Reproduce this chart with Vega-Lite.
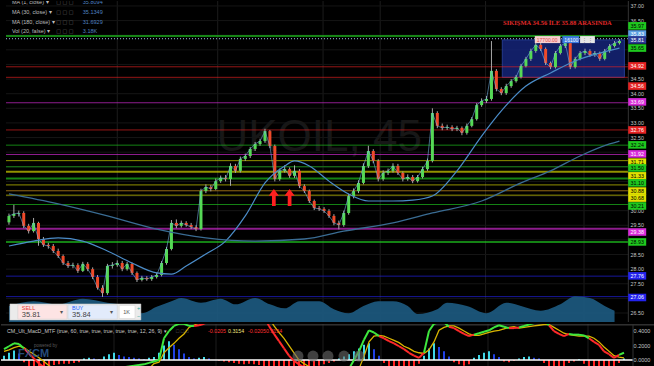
{
"$schema":"https://vega.github.io/schema/vega-lite/v6.json",
"background":"#000000",
"padding":0,
"spacing":0,
"config":{"view":{"stroke":null},"font":"Liberation Sans"},
"datasets":{
"bars":[
{"i":0,"o":29.60,"h":29.90,"l":29.52,"c":29.82},{"i":1,"o":29.82,"h":30.20,"l":29.75,"c":29.89},{"i":2,"o":29.89,"h":30.00,"l":29.80,"c":29.92},{"i":3,"o":29.92,"h":29.98,"l":29.40,"c":29.48},{"i":4,"o":29.48,"h":29.55,"l":29.22,"c":29.30},{"i":5,"o":29.30,"h":29.75,"l":29.25,"c":29.58},{"i":6,"o":29.58,"h":29.62,"l":28.80,"c":29.03},{"i":7,"o":29.03,"h":29.10,"l":28.76,"c":28.83},{"i":8,"o":28.83,"h":28.90,"l":28.70,"c":28.79},{"i":9,"o":28.79,"h":28.86,"l":28.55,"c":28.62},
{"i":10,"o":28.62,"h":28.70,"l":28.38,"c":28.45},{"i":11,"o":28.45,"h":28.50,"l":28.14,"c":28.21},{"i":12,"o":28.21,"h":28.28,"l":28.04,"c":28.11},{"i":13,"o":28.11,"h":28.22,"l":28.03,"c":28.14},{"i":14,"o":28.14,"h":28.20,"l":27.87,"c":27.94},{"i":15,"o":27.94,"h":28.25,"l":27.90,"c":28.18},{"i":16,"o":28.18,"h":28.24,"l":27.93,"c":28.00},{"i":17,"o":28.00,"h":28.06,"l":27.66,"c":27.73},{"i":18,"o":27.73,"h":27.80,"l":27.30,"c":27.36},{"i":19,"o":27.36,"h":27.45,"l":27.05,"c":27.18},
{"i":20,"o":27.18,"h":28.18,"l":27.12,"c":28.11},{"i":21,"o":28.11,"h":28.24,"l":28.02,"c":28.14},{"i":22,"o":28.14,"h":28.30,"l":28.08,"c":28.21},{"i":23,"o":28.21,"h":28.28,"l":27.93,"c":28.00},{"i":24,"o":28.00,"h":28.25,"l":27.95,"c":28.18},{"i":25,"o":28.18,"h":28.22,"l":27.80,"c":27.87},{"i":26,"o":27.87,"h":27.92,"l":27.56,"c":27.63},{"i":27,"o":27.63,"h":27.77,"l":27.58,"c":27.70},{"i":28,"o":27.70,"h":27.76,"l":27.60,"c":27.66},{"i":29,"o":27.66,"h":27.80,"l":27.60,"c":27.73},
{"i":30,"o":27.73,"h":27.88,"l":27.68,"c":27.80},{"i":31,"o":27.80,"h":28.28,"l":27.75,"c":28.21},{"i":32,"o":28.21,"h":28.76,"l":28.15,"c":28.69},{"i":33,"o":28.69,"h":29.68,"l":28.64,"c":29.58},{"i":34,"o":29.58,"h":29.70,"l":29.40,"c":29.48},{"i":35,"o":29.48,"h":29.66,"l":29.42,"c":29.58},{"i":36,"o":29.58,"h":29.64,"l":29.45,"c":29.51},{"i":37,"o":29.51,"h":29.58,"l":29.37,"c":29.44},{"i":38,"o":29.44,"h":29.50,"l":29.30,"c":29.37},{"i":39,"o":29.37,"h":30.75,"l":29.32,"c":30.67},
{"i":40,"o":30.67,"h":30.90,"l":30.60,"c":30.81},{"i":41,"o":30.81,"h":30.88,"l":30.66,"c":30.74},{"i":42,"o":30.74,"h":31.10,"l":30.70,"c":31.01},{"i":43,"o":31.01,"h":31.20,"l":30.95,"c":31.12},{"i":44,"o":31.12,"h":31.22,"l":31.00,"c":31.08},{"i":45,"o":31.08,"h":31.62,"l":30.85,"c":31.53},{"i":46,"o":31.53,"h":31.60,"l":31.29,"c":31.36},{"i":47,"o":31.36,"h":31.85,"l":31.30,"c":31.77},{"i":48,"o":31.77,"h":31.95,"l":31.70,"c":31.87},{"i":49,"o":31.87,"h":32.18,"l":31.80,"c":32.11},
{"i":50,"o":32.11,"h":32.35,"l":32.04,"c":32.28},{"i":51,"o":32.28,"h":32.46,"l":32.22,"c":32.38},{"i":52,"o":32.38,"h":32.80,"l":32.32,"c":32.72},{"i":53,"o":32.72,"h":32.76,"l":32.14,"c":32.21},{"i":54,"o":32.21,"h":32.26,"l":31.00,"c":31.08},{"i":55,"o":31.08,"h":31.44,"l":31.02,"c":31.36},{"i":56,"o":31.36,"h":31.55,"l":31.30,"c":31.42},{"i":57,"o":31.42,"h":31.48,"l":31.12,"c":31.19},{"i":58,"o":31.19,"h":31.55,"l":31.12,"c":31.36},{"i":59,"o":31.36,"h":31.42,"l":30.77,"c":30.84},
{"i":60,"o":30.84,"h":30.90,"l":30.60,"c":30.67},{"i":61,"o":30.67,"h":30.72,"l":30.26,"c":30.33},{"i":62,"o":30.33,"h":30.38,"l":30.02,"c":30.09},{"i":63,"o":30.09,"h":30.16,"l":29.99,"c":30.06},{"i":64,"o":30.06,"h":30.12,"l":29.92,"c":29.99},{"i":65,"o":29.99,"h":30.05,"l":29.75,"c":29.82},{"i":66,"o":29.82,"h":29.88,"l":29.50,"c":29.58},{"i":67,"o":29.58,"h":29.66,"l":29.36,"c":29.51},{"i":68,"o":29.51,"h":30.00,"l":29.45,"c":29.92},{"i":69,"o":29.92,"h":30.58,"l":29.86,"c":30.50},
{"i":70,"o":30.50,"h":30.76,"l":30.42,"c":30.67},{"i":71,"o":30.67,"h":31.04,"l":30.60,"c":30.95},{"i":72,"o":30.95,"h":31.62,"l":30.90,"c":31.53},{"i":73,"o":31.53,"h":32.22,"l":31.46,"c":32.04},{"i":74,"o":32.04,"h":32.10,"l":31.62,"c":31.70},{"i":75,"o":31.70,"h":31.76,"l":31.00,"c":31.08},{"i":76,"o":31.08,"h":31.38,"l":31.02,"c":31.29},{"i":77,"o":31.29,"h":31.44,"l":31.22,"c":31.36},{"i":78,"o":31.36,"h":31.62,"l":31.30,"c":31.53},{"i":79,"o":31.53,"h":31.60,"l":31.22,"c":31.29},
{"i":80,"o":31.29,"h":31.34,"l":31.00,"c":31.08},{"i":81,"o":31.08,"h":31.24,"l":31.02,"c":31.15},{"i":82,"o":31.15,"h":31.22,"l":30.94,"c":31.01},{"i":83,"o":31.01,"h":31.22,"l":30.96,"c":31.15},{"i":84,"o":31.15,"h":31.50,"l":31.10,"c":31.42},{"i":85,"o":31.42,"h":31.78,"l":31.36,"c":31.70},{"i":86,"o":31.70,"h":33.50,"l":31.65,"c":33.34},{"i":87,"o":33.34,"h":33.40,"l":32.82,"c":32.90},{"i":88,"o":32.90,"h":32.98,"l":32.75,"c":32.83},{"i":89,"o":32.83,"h":32.94,"l":32.76,"c":32.86},
{"i":90,"o":32.86,"h":32.92,"l":32.72,"c":32.79},{"i":91,"o":32.79,"h":32.90,"l":32.72,"c":32.83},{"i":92,"o":32.83,"h":32.88,"l":32.58,"c":32.66},{"i":93,"o":32.66,"h":32.98,"l":32.60,"c":32.90},{"i":94,"o":32.90,"h":33.20,"l":32.85,"c":33.13},{"i":95,"o":33.13,"h":33.68,"l":33.08,"c":33.61},{"i":96,"o":33.61,"h":33.84,"l":33.55,"c":33.75},{"i":97,"o":33.75,"h":33.92,"l":33.68,"c":33.82},{"i":98,"o":33.82,"h":35.80,"l":33.76,"c":34.78},{"i":99,"o":34.78,"h":34.84,"l":34.08,"c":34.16},
{"i":100,"o":34.16,"h":34.22,"l":33.95,"c":34.02},{"i":101,"o":34.02,"h":34.34,"l":33.96,"c":34.26},{"i":102,"o":34.26,"h":34.50,"l":34.20,"c":34.43},{"i":103,"o":34.43,"h":34.64,"l":34.38,"c":34.57},{"i":104,"o":34.57,"h":35.02,"l":34.52,"c":34.95},{"i":105,"o":34.95,"h":35.26,"l":34.90,"c":35.19},{"i":106,"o":35.19,"h":35.54,"l":35.12,"c":35.46},{"i":107,"o":35.46,"h":35.84,"l":35.40,"c":35.67},{"i":108,"o":35.67,"h":35.74,"l":35.46,"c":35.53},{"i":109,"o":35.53,"h":35.58,"l":34.98,"c":35.05},
{"i":110,"o":35.05,"h":35.10,"l":34.84,"c":34.91},{"i":111,"o":34.91,"h":35.46,"l":34.86,"c":35.39},{"i":112,"o":35.39,"h":35.70,"l":35.34,"c":35.63},{"i":113,"o":35.63,"h":35.84,"l":35.56,"c":35.73},{"i":114,"o":35.73,"h":35.78,"l":34.84,"c":34.91},{"i":115,"o":34.91,"h":35.26,"l":34.86,"c":35.19},{"i":116,"o":35.19,"h":35.46,"l":35.14,"c":35.39},{"i":117,"o":35.39,"h":35.54,"l":35.32,"c":35.46},{"i":118,"o":35.46,"h":35.52,"l":35.26,"c":35.32},{"i":119,"o":35.32,"h":35.46,"l":35.26,"c":35.39},
{"i":120,"o":35.39,"h":35.44,"l":35.12,"c":35.19},{"i":121,"o":35.19,"h":35.53,"l":35.14,"c":35.46},{"i":122,"o":35.46,"h":35.70,"l":35.40,"c":35.63},{"i":123,"o":35.63,"h":35.80,"l":35.58,"c":35.73},{"i":124,"o":35.73,"h":35.86,"l":35.68,"c":35.80}
],
"macd":[
{"i":0,"m":0.15,"s":0.12,"hist":0.06},{"i":1,"m":0.19,"s":0.14,"hist":0.10},{"i":2,"m":0.23,"s":0.17,"hist":0.13},{"i":3,"m":0.22,"s":0.19,"hist":0.09},{"i":4,"m":0.16,"s":0.17,"hist":-0.03},{"i":5,"m":0.09,"s":0.12,"hist":-0.09},{"i":6,"m":0.02,"s":0.08,"hist":-0.13},{"i":7,"m":-0.05,"s":0.03,"hist":-0.15},{"i":8,"m":-0.10,"s":-0.02,"hist":-0.14},{"i":9,"m":-0.14,"s":-0.08,"hist":-0.10},
{"i":10,"m":-0.17,"s":-0.11,"hist":-0.07},{"i":11,"m":-0.19,"s":-0.14,"hist":-0.06},{"i":12,"m":-0.21,"s":-0.16,"hist":-0.05},{"i":13,"m":-0.22,"s":-0.18,"hist":-0.05},{"i":14,"m":-0.23,"s":-0.19,"hist":-0.04},{"i":15,"m":-0.23,"s":-0.20,"hist":-0.03},{"i":16,"m":-0.24,"s":-0.21,"hist":0.02},{"i":17,"m":-0.25,"s":-0.22,"hist":0.03},{"i":18,"m":-0.26,"s":-0.22,"hist":0.02},{"i":19,"m":-0.26,"s":-0.23,"hist":0.01},
{"i":20,"m":-0.22,"s":-0.23,"hist":0.05},{"i":21,"m":-0.18,"s":-0.22,"hist":0.08},{"i":22,"m":-0.15,"s":-0.21,"hist":0.10},{"i":23,"m":-0.12,"s":-0.20,"hist":0.07},{"i":24,"m":-0.10,"s":-0.19,"hist":0.05},{"i":25,"m":-0.09,"s":-0.17,"hist":0.04},{"i":26,"m":-0.08,"s":-0.16,"hist":0.03},{"i":27,"m":-0.07,"s":-0.14,"hist":0.02},{"i":28,"m":-0.06,"s":-0.13,"hist":0.01},{"i":29,"m":-0.04,"s":-0.12,"hist":0.03},
{"i":30,"m":-0.02,"s":-0.05,"hist":0.04},{"i":31,"m":0.00,"s":-0.03,"hist":0.10},{"i":32,"m":0.30,"s":0.10,"hist":0.20},{"i":33,"m":0.40,"s":0.17,"hist":0.26},{"i":34,"m":0.47,"s":0.23,"hist":0.21},{"i":35,"m":0.50,"s":0.30,"hist":0.15},{"i":36,"m":0.50,"s":0.36,"hist":0.09},{"i":37,"m":0.47,"s":0.45,"hist":0.04},{"i":38,"m":0.47,"s":0.48,"hist":0.02},{"i":39,"m":0.48,"s":0.51,"hist":0.03},
{"i":40,"m":0.50,"s":0.53,"hist":0.04},{"i":41,"m":0.54,"s":0.55,"hist":0.02},{"i":42,"m":0.58,"s":0.56,"hist":0.00},{"i":43,"m":0.60,"s":0.58,"hist":-0.01},{"i":44,"m":0.61,"s":0.59,"hist":-0.02},{"i":45,"m":0.64,"s":0.60,"hist":-0.03},{"i":46,"m":0.64,"s":0.61,"hist":-0.04},{"i":47,"m":0.66,"s":0.63,"hist":-0.05},{"i":48,"m":0.67,"s":0.64,"hist":-0.06},{"i":49,"m":0.69,"s":0.66,"hist":-0.05},
{"i":50,"m":0.70,"s":0.67,"hist":-0.06},{"i":51,"m":0.66,"s":0.67,"hist":-0.07},{"i":52,"m":0.60,"s":0.65,"hist":-0.09},{"i":53,"m":0.47,"s":0.58,"hist":-0.12},{"i":54,"m":0.36,"s":0.47,"hist":-0.15},{"i":55,"m":0.26,"s":0.38,"hist":-0.18},{"i":56,"m":0.16,"s":0.30,"hist":-0.20},{"i":57,"m":0.06,"s":0.20,"hist":-0.20},{"i":58,"m":-0.01,"s":0.10,"hist":-0.19},{"i":59,"m":-0.06,"s":0.00,"hist":-0.17},
{"i":60,"m":-0.10,"s":-0.05,"hist":-0.15},{"i":61,"m":-0.13,"s":-0.09,"hist":-0.12},{"i":62,"m":-0.17,"s":-0.12,"hist":-0.10},{"i":63,"m":-0.20,"s":-0.14,"hist":-0.08},{"i":64,"m":-0.22,"s":-0.17,"hist":-0.06},{"i":65,"m":-0.23,"s":-0.19,"hist":-0.04},{"i":66,"m":-0.22,"s":-0.20,"hist":-0.02},{"i":67,"m":-0.19,"s":-0.21,"hist":0.02},{"i":68,"m":-0.16,"s":-0.20,"hist":0.05},{"i":69,"m":-0.12,"s":-0.18,"hist":0.08},
{"i":70,"m":0.00,"s":-0.16,"hist":0.12},{"i":71,"m":0.12,"s":-0.12,"hist":0.16},{"i":72,"m":0.28,"s":0.05,"hist":0.21},{"i":73,"m":0.41,"s":0.25,"hist":0.23},{"i":74,"m":0.38,"s":0.33,"hist":0.15},{"i":75,"m":0.33,"s":0.34,"hist":0.06},{"i":76,"m":0.30,"s":0.33,"hist":-0.04},{"i":77,"m":0.26,"s":0.30,"hist":-0.09},{"i":78,"m":0.23,"s":0.27,"hist":-0.13},{"i":79,"m":0.19,"s":0.24,"hist":-0.15},
{"i":80,"m":0.15,"s":0.19,"hist":-0.16},{"i":81,"m":0.10,"s":0.16,"hist":-0.14},{"i":82,"m":0.06,"s":0.12,"hist":-0.10},{"i":83,"m":0.03,"s":0.10,"hist":-0.05},{"i":84,"m":0.10,"s":0.09,"hist":0.06},{"i":85,"m":0.40,"s":0.14,"hist":0.16},{"i":86,"m":0.50,"s":0.25,"hist":0.23},{"i":87,"m":0.52,"s":0.41,"hist":0.18},{"i":88,"m":0.52,"s":0.45,"hist":0.12},{"i":89,"m":0.46,"s":0.47,"hist":0.05},
{"i":90,"m":0.44,"s":0.47,"hist":-0.03},{"i":91,"m":0.40,"s":0.44,"hist":-0.06},{"i":92,"m":0.36,"s":0.40,"hist":-0.08},{"i":93,"m":0.33,"s":0.36,"hist":-0.06},{"i":94,"m":0.35,"s":0.34,"hist":0.03},{"i":95,"m":0.37,"s":0.34,"hist":0.07},{"i":96,"m":0.39,"s":0.36,"hist":0.10},{"i":97,"m":0.41,"s":0.38,"hist":0.12},{"i":98,"m":0.45,"s":0.40,"hist":0.08},{"i":99,"m":0.48,"s":0.41,"hist":0.04},
{"i":100,"m":0.46,"s":0.43,"hist":-0.02},{"i":101,"m":0.44,"s":0.45,"hist":-0.03},{"i":102,"m":0.44,"s":0.46,"hist":-0.01},{"i":103,"m":0.45,"s":0.44,"hist":0.02},{"i":104,"m":0.47,"s":0.45,"hist":0.04},{"i":105,"m":0.49,"s":0.46,"hist":0.05},{"i":106,"m":0.51,"s":0.47,"hist":0.03},{"i":107,"m":0.52,"s":0.48,"hist":0.02},{"i":108,"m":0.54,"s":0.49,"hist":-0.04},{"i":109,"m":0.48,"s":0.49,"hist":-0.09},
{"i":110,"m":0.40,"s":0.45,"hist":-0.14},{"i":111,"m":0.36,"s":0.41,"hist":-0.16},{"i":112,"m":0.33,"s":0.37,"hist":-0.10},{"i":113,"m":0.36,"s":0.35,"hist":-0.04},{"i":114,"m":0.35,"s":0.34,"hist":-0.02},{"i":115,"m":0.35,"s":0.33,"hist":0.01},{"i":116,"m":0.34,"s":0.33,"hist":-0.05},{"i":117,"m":0.30,"s":0.33,"hist":-0.09},{"i":118,"m":0.25,"s":0.30,"hist":-0.13},{"i":119,"m":0.21,"s":0.25,"hist":-0.16},
{"i":120,"m":0.12,"s":0.18,"hist":-0.17},{"i":121,"m":0.08,"s":0.12,"hist":-0.15},{"i":122,"m":0.03,"s":0.06,"hist":-0.10},{"i":123,"m":0.07,"s":0.04,"hist":-0.04},{"i":124,"m":0.10,"s":0.03,"hist":0.02}
],
"ma30":[{"i":0,"v":28.79},{"i":5,"v":28.96},{"i":10,"v":29.07},{"i":15,"v":28.96},{"i":20,"v":28.62},{"i":25,"v":28.21},{"i":30,"v":27.87},{"i":33,"v":27.83},{"i":36,"v":28.11},{"i":40,"v":28.52},{"i":44,"v":28.96},{"i":48,"v":29.82},{"i":52,"v":30.95},{"i":56,"v":31.53},{"i":58,"v":31.70},{"i":61,"v":31.53},{"i":65,"v":31.01},{"i":69,"v":30.57},{"i":73,"v":30.33},{"i":78,"v":30.33},{"i":82,"v":30.36},{"i":86,"v":30.50},{"i":91,"v":31.36},{"i":96,"v":32.55},{"i":100,"v":33.41},{"i":105,"v":34.26},{"i":110,"v":34.71},{"i":115,"v":35.12},{"i":120,"v":35.39},{"i":124,"v":35.56}],
"ma180":[{"i":0,"v":30.57},{"i":10,"v":30.23},{"i":20,"v":29.82},{"i":30,"v":29.37},{"i":40,"v":29.07},{"i":50,"v":28.96},{"i":60,"v":29.03},{"i":68,"v":29.30},{"i":78,"v":29.58},{"i":86,"v":29.92},{"i":96,"v":30.33},{"i":104,"v":30.95},{"i":110,"v":31.36},{"i":116,"v":31.87},{"i":122,"v":32.28},{"i":124,"v":32.38}],
"vol":[{"i":0,"v":2.0},{"i":5,"v":2.6},{"i":10,"v":2.2},{"i":15,"v":2.9},{"i":20,"v":2.4},{"i":25,"v":1.9},{"i":27,"v":1.1},{"i":30,"v":1.9},{"i":33,"v":2.6},{"i":35,"v":3.0},{"i":39,"v":2.4},{"i":43,"v":2.9},{"i":46,"v":2.2},{"i":50,"v":3.0},{"i":53,"v":2.2},{"i":56,"v":1.7},{"i":59,"v":2.6},{"i":63,"v":2.6},{"i":66,"v":1.6},{"i":69,"v":1.1},{"i":72,"v":2.0},{"i":75,"v":2.6},{"i":78,"v":2.6},{"i":81,"v":2.0},{"i":83,"v":1.0},{"i":87,"v":1.6},{"i":89,"v":2.4},{"i":93,"v":2.0},{"i":97,"v":1.1},{"i":101,"v":2.4},{"i":104,"v":2.0},{"i":108,"v":1.4},{"i":112,"v":2.2},{"i":115,"v":3.2},{"i":118,"v":3.0},{"i":121,"v":2.0},{"i":123,"v":1.4}],
"levels":[{"p":35.97,"grp":"green","major":true},{"p":34.92,"grp":"red","major":false},{"p":34.56,"grp":"red","major":false},{"p":33.69,"grp":"magenta","major":false},{"p":32.76,"grp":"red","major":false},{"p":32.24,"grp":"green","major":false},{"p":31.92,"grp":"magenta","major":false},{"p":31.71,"grp":"yellow","major":false},{"p":31.50,"grp":"green","major":false},{"p":31.33,"grp":"yellow","major":true},{"p":31.10,"grp":"green","major":true},{"p":30.88,"grp":"yellow","major":false},{"p":30.68,"grp":"orange","major":false},{"p":30.53,"grp":"yellow","major":false},{"p":30.21,"grp":"green","major":false},{"p":29.38,"grp":"magenta","major":true},{"p":28.93,"grp":"green","major":true},{"p":27.76,"grp":"blue","major":false},{"p":27.06,"grp":"blue","major":false}],
"tags":[{"pos":36.32,"label":"35.97","grp":"green"},{"pos":36.04,"label":"35.83","grp":"lightblue"},{"pos":35.84,"label":"35.81","grp":"navy"},{"pos":35.56,"label":"35.65","grp":"green"},{"pos":34.95,"label":"34.92","grp":"red"},{"pos":34.26,"label":"34.56","grp":"red"},{"pos":33.72,"label":"33.69","grp":"magenta"},{"pos":32.76,"label":"32.76","grp":"red"},{"pos":32.25,"label":"32.24","grp":"green"},{"pos":31.94,"label":"31.92","grp":"magenta"},{"pos":31.66,"label":"31.71","grp":"yellow"},{"pos":31.46,"label":"31.50","grp":"green"},{"pos":31.19,"label":"31.33","grp":"yellow"},{"pos":30.95,"label":"31.10","grp":"green"},{"pos":30.67,"label":"30.88","grp":"yellow"},{"pos":30.43,"label":"30.68","grp":"yellow"},{"pos":30.16,"label":"30.21","grp":"green"},{"pos":29.27,"label":"29.38","grp":"magenta"},{"pos":28.93,"label":"28.93","grp":"green"},{"pos":27.77,"label":"27.76","grp":"blue"},{"pos":27.03,"label":"27.06","grp":"blue"}],
"ticks":[{"p":37.0},{"p":36.5},{"p":34.5},{"p":34.0},{"p":33.5},{"p":33.0},{"p":32.5},{"p":30.0},{"p":29.5},{"p":28.5},{"p":28.0},{"p":27.5},{"p":26.5}],
"hgrid":[{"p":26.5},{"p":27.0},{"p":27.5},{"p":28.0},{"p":28.5},{"p":29.0},{"p":29.5},{"p":30.0},{"p":30.5},{"p":31.0},{"p":31.5},{"p":32.0},{"p":32.5},{"p":33.0},{"p":33.5},{"p":34.0},{"p":34.5},{"p":35.0},{"p":35.5},{"p":36.0},{"p":36.5},{"p":37.0}],
"vgrid":[{"i":22},{"i":42.4},{"i":63.8},{"i":75.4},{"i":96.8},{"i":116.8}],
"legend":[{"p":37.14,"name":"MA (1, close) ▾","val":"35.8094"},{"p":36.79,"name":"MA (30, close) ▾","val":"35.1349"},{"p":36.45,"name":"MA (180, close) ▾","val":"31.6929"},{"p":36.14,"name":"Vol (20, false) ▾","val":"3.18K"}],
"arrows":[{"i":53.8,"p":30.45},{"i":57,"p":30.45}],
"chips":[{"x1":106.8,"x2":112.0,"lab":"17700.00","kind":"amount"},{"x1":112.4,"x2":115.8,"lab":"16100","kind":"qty"},{"x1":116.0,"x2":119.0,"lab":"⋮ ⋮","kind":"menu"}],
"widget":[{"part":"frame","x1":0.2,"x2":26.8,"p1":26.26,"p2":26.81},{"part":"sell","x1":1.8,"x2":11.8,"p1":26.29,"p2":26.78},{"part":"buy","x1":12.0,"x2":22.0,"p1":26.29,"p2":26.78},{"part":"qty","x1":22.4,"x2":25.6,"p1":26.31,"p2":26.76}],
"widgetText":[{"i":2.6,"p":26.67,"t":"SELL","role":"sell"},{"i":2.6,"p":26.43,"t":"35.81","role":"price"},{"i":10.4,"p":26.55,"t":"▾","role":"arrow"},{"i":12.8,"p":26.67,"t":"BUY","role":"buy"},{"i":12.8,"p":26.43,"t":"35.84","role":"price"},{"i":20.6,"p":26.55,"t":"▾","role":"arrow"},{"i":23.2,"p":26.53,"t":"1K","role":"qty"},{"i":26.0,"p":26.68,"t":"+","role":"pm"},{"i":26.0,"p":26.40,"t":"−","role":"pm"}],
"macdHead":[{"i":0.6,"v":0.396,"t":"CM_Ult_MacD_MTF (true, 60, true, true, true, true, true, 12, 26, 9) ▾","role":"name"},{"i":34.4,"v":0.396,"t":"□ □ □","role":"icon"},{"i":40.8,"v":0.396,"t":"-0.0205","role":"neg"},{"i":44.8,"v":0.396,"t":"0.3154","role":"pos"},{"i":48.8,"v":0.396,"t":"-0.0205","role":"neg"},{"i":52.4,"v":0.396,"t":"0.3154","role":"neg"}],
"macdTicks":[{"v":0.4,"t":"0.4000"},{"v":0.2,"t":"0.2000"},{"v":0.0,"t":"0.0000"}],
"buttons":[{"i":58.8},{"i":61.8},{"i":64.8},{"i":68.0},{"i":71.0}]
},
"vconcat":[
{
"width":654,"height":321,
"layer":[
{"layer":[
{"data":{"name":"vgrid"},"mark":{"type":"rule","color":"#1c1c1c","strokeWidth":1},"encoding":{"x":{"field":"i","type":"quantitative","scale":{"domain":[-0.6,130.2],"nice":false,"zero":false},"axis":null}}},
{"data":{"name":"hgrid"},"mark":{"type":"rule","color":"#151515","strokeWidth":1},"encoding":{"y":{"field":"p","type":"quantitative","scale":{"domain":[26.192,37.17],"nice":false,"zero":false},"axis":null},"x":{"datum":-0.6},"x2":{"datum":125.8}}},
{"data":{"values":[{"i":63,"p":32.49,"t":"UKOIL, 45"}]},"mark":{"type":"text","font":"Liberation Sans","fontSize":44,"color":"#171717","align":"center","baseline":"middle"},"encoding":{"x":{"field":"i","type":"quantitative"},"y":{"field":"p","type":"quantitative"},"text":{"field":"t"}}},
{"data":{"values":[{"start":100.2,"end":125.0,"low":34.56,"high":35.84}]},"mark":{"type":"rect","color":"#16257a","opacity":0.85,"stroke":"#2c46a8","strokeWidth":1},"encoding":{"x":{"field":"start","type":"quantitative"},"x2":{"field":"end"},"y":{"field":"low","type":"quantitative"},"y2":{"field":"high"}}},
{"data":{"name":"levels"},"mark":{"type":"rule","opacity":0.65},"encoding":{"y":{"field":"p","type":"quantitative"},"x":{"datum":-0.6},"x2":{"datum":125.8},"color":{"field":"grp","type":"nominal","scale":{"domain":["green","red","magenta","yellow","orange","blue","lightblue","navy"],"range":["#1ec81e","#e52222","#d92bd9","#e0e000","#e0a020","#2323ee","#5b9fe3","#2a3a96"]},"legend":null},"strokeWidth":{"condition":{"test":"datum.major","value":2},"value":1}}},
{"data":{"values":[{"p":35.88}]},"mark":{"type":"rule","color":"#9fc0e8","strokeDash":[1,2],"strokeWidth":1},"encoding":{"y":{"field":"p","type":"quantitative"},"x":{"datum":-0.6},"x2":{"datum":125.8}}}
]},
{"data":{"name":"vol"},"mark":{"type":"area","color":"#1d5b82","opacity":0.9,"interpolate":"monotone"},"encoding":{"x":{"field":"i","type":"quantitative"},"y":{"field":"v","type":"quantitative","scale":{"domain":[0,40],"nice":false},"axis":null}}},
{"layer":[
{"data":{"name":"bars"},"mark":{"type":"rule","color":"#a8a8a8","strokeWidth":1},"encoding":{"x":{"field":"i","type":"quantitative","scale":{"domain":[-0.6,130.2],"nice":false,"zero":false},"axis":null},"y":{"field":"l","type":"quantitative","scale":{"domain":[26.192,37.17],"nice":false,"zero":false},"axis":null},"y2":{"field":"h"}}},
{"data":{"name":"bars"},"mark":{"type":"bar","width":3},"encoding":{"x":{"field":"i","type":"quantitative"},"y":{"field":"o","type":"quantitative"},"y2":{"field":"c"},"color":{"condition":{"test":"datum.c >= datum.o","value":"#56d956"},"value":"#ee4a2a"}}},
{"data":{"name":"bars"},"mark":{"type":"line","color":"#79b8ec","strokeWidth":0.8,"opacity":0.7},"encoding":{"x":{"field":"i","type":"quantitative"},"y":{"field":"c","type":"quantitative"}}},
{"data":{"name":"ma30"},"mark":{"type":"line","color":"#4b8cc8","strokeWidth":1.2,"interpolate":"monotone"},"encoding":{"x":{"field":"i","type":"quantitative"},"y":{"field":"v","type":"quantitative"}}},
{"data":{"name":"ma180"},"mark":{"type":"line","color":"#3a6c93","strokeWidth":1.3,"interpolate":"monotone"},"encoding":{"x":{"field":"i","type":"quantitative"},"y":{"field":"v","type":"quantitative"}}},
{"data":{"name":"arrows"},"mark":{"type":"point","shape":"M0,-1L0.6,-0.2L0.22,-0.2L0.22,1L-0.22,1L-0.22,-0.2L-0.6,-0.2Z","filled":true,"size":289,"color":"#ff2020","opacity":1},"encoding":{"x":{"field":"i","type":"quantitative"},"y":{"field":"p","type":"quantitative"}}},
{"data":{"name":"legend"},"mark":{"type":"text","align":"left","baseline":"middle","fontSize":5.5,"color":"#bdbdbd","clip":true},"encoding":{"x":{"datum":0.6},"y":{"field":"p","type":"quantitative"},"text":{"field":"name"}}},
{"data":{"name":"legend"},"mark":{"type":"text","align":"left","baseline":"middle","fontSize":5,"color":"#6a6a6a","clip":true,"font":"DejaVu Sans"},"encoding":{"x":{"datum":9.6},"y":{"field":"p","type":"quantitative"},"text":{"value":"□ □ □"}}},
{"data":{"name":"legend"},"mark":{"type":"text","align":"left","baseline":"middle","fontSize":5.5,"color":"#4f80c0","clip":true},"encoding":{"x":{"datum":15},"y":{"field":"p","type":"quantitative"},"text":{"field":"val"}}},
{"data":{"values":[{"i":111.4,"p":36.42,"t":"SIKIŞMA 34.56 İLE 35.88 ARASINDA"}]},"mark":{"type":"text","font":"Liberation Serif","fontWeight":"bold","fontSize":6.5,"color":"#e02a2a","align":"center","baseline":"middle"},"encoding":{"x":{"field":"i","type":"quantitative"},"y":{"field":"p","type":"quantitative"},"text":{"field":"t"}}},
{"data":{"name":"chips"},"mark":{"type":"rect"},"encoding":{"x":{"field":"x1","type":"quantitative"},"x2":{"field":"x2"},"y":{"datum":35.73},"y2":{"datum":35.97},"color":{"condition":[{"test":"datum.kind == 'amount'","value":"#f6d0d0"},{"test":"datum.kind == 'qty'","value":"#3d7be0"}],"value":"#e6e6e6"}}},
{"data":{"name":"chips"},"mark":{"type":"text","align":"left","baseline":"middle","fontSize":5,"dx":2},"encoding":{"x":{"field":"x1","type":"quantitative"},"y":{"datum":35.85},"text":{"field":"lab"},"color":{"condition":[{"test":"datum.kind == 'amount'","value":"#e04848"},{"test":"datum.kind == 'qty'","value":"#ffffff"}],"value":"#888888"}}},
{"data":{"values":[{"x":125.8}]},"mark":{"type":"rule","color":"#333333","strokeWidth":1},"encoding":{"x":{"field":"x","type":"quantitative"}}},
{"data":{"name":"ticks"},"mark":{"type":"text","align":"center","baseline":"middle","fontSize":5.3,"color":"#c4c4c4"},"encoding":{"x":{"datum":127.6},"y":{"field":"p","type":"quantitative"},"text":{"field":"p","type":"quantitative","format":".2f"}}},
{"data":{"name":"tags"},"mark":{"type":"point","shape":"M-1,-0.42L1,-0.42L1,0.42L-1,0.42Z","filled":true,"size":324,"opacity":1},"encoding":{"x":{"datum":127.6},"y":{"field":"pos","type":"quantitative"},"color":{"field":"grp","type":"nominal","scale":{"domain":["green","red","magenta","yellow","orange","blue","lightblue","navy"],"range":["#1ec81e","#e52222","#d92bd9","#e0e000","#e0a020","#2323ee","#5b9fe3","#2a3a96"]},"legend":null}}},
{"data":{"name":"tags"},"mark":{"type":"text","align":"center","baseline":"middle","fontSize":5.3},"encoding":{"x":{"datum":127.6},"y":{"field":"pos","type":"quantitative"},"text":{"field":"label"},"color":{"condition":{"test":"datum.grp == 'green' || datum.grp == 'yellow'","value":"#000000"},"value":"#ffffff"}}},
{"data":{"name":"widget"},"mark":{"type":"rect","stroke":"#cfcfcf","strokeWidth":0.5},"encoding":{"x":{"field":"x1","type":"quantitative"},"x2":{"field":"x2"},"y":{"field":"p1","type":"quantitative"},"y2":{"field":"p2"},"color":{"condition":[{"test":"datum.part == 'sell'","value":"#fde4e4"},{"test":"datum.part == 'buy'","value":"#e2ebfb"},{"test":"datum.part == 'qty'","value":"#ffffff"}],"value":"#ebebeb"}}},
{"data":{"name":"widgetText"},"mark":{"type":"text","align":"left","baseline":"middle"},"encoding":{"x":{"field":"i","type":"quantitative"},"y":{"field":"p","type":"quantitative"},"text":{"field":"t"},"size":{"condition":{"test":"datum.role == 'price'","value":7.5},"value":5.5},"color":{"condition":[{"test":"datum.role == 'sell'","value":"#e53935"},{"test":"datum.role == 'buy'","value":"#2962ff"},{"test":"datum.role == 'price'","value":"#444444"},{"test":"datum.role == 'pm'","value":"#26a69a"}],"value":"#555555"}}}
]}
],
"resolve":{"scale":{"y":"independent"}}
},
{
"width":654,"height":45,
"layer":[
{"data":{"name":"vgrid"},"mark":{"type":"rule","color":"#1c1c1c","strokeWidth":1},"encoding":{"x":{"field":"i","type":"quantitative","scale":{"domain":[-0.6,130.2],"nice":false,"zero":false},"axis":null}}},
{"data":{"values":[{"v":0.485}]},"mark":{"type":"rule","color":"#4a4a4a","strokeWidth":1},"encoding":{"y":{"field":"v","type":"quantitative","scale":{"domain":[-0.124,0.497],"nice":false,"zero":false},"axis":null},"x":{"datum":-0.6},"x2":{"datum":130.2}}},
{"data":{"name":"macd"},"transform":[{"window":[{"op":"lag","field":"hist","as":"hp"}],"sort":[{"field":"i"}]}],"mark":{"type":"rule","strokeWidth":2,"clip":true},"encoding":{"x":{"field":"i","type":"quantitative"},"y":{"field":"hist","type":"quantitative"},"y2":{"datum":0},"color":{"condition":[{"test":"datum.hist < 0","value":"#ff2020"},{"test":"datum.hp == null || datum.hist >= datum.hp","value":"#3fd8e8"}],"value":"#2141e6"}}},
{"data":{"values":[{"v":0}]},"mark":{"type":"rule","color":"#ffffff","strokeWidth":1.5},"encoding":{"y":{"field":"v","type":"quantitative"},"x":{"datum":-0.6},"x2":{"datum":125.8}}},
{"data":{"name":"macd"},"mark":{"type":"line","color":"#d8b400","strokeWidth":1.3,"clip":true},"encoding":{"x":{"field":"i","type":"quantitative"},"y":{"field":"s","type":"quantitative"}}},
{"data":{"name":"macd"},"transform":[{"window":[{"op":"lead","field":"m","as":"m2"},{"op":"lead","field":"i","as":"i2"}],"sort":[{"field":"i"}]},{"filter":"datum.i2 != null"}],"mark":{"type":"rule","strokeWidth":2,"clip":true},"encoding":{"x":{"field":"i","type":"quantitative"},"x2":{"field":"i2"},"y":{"field":"m","type":"quantitative"},"y2":{"field":"m2"},"color":{"condition":{"test":"datum.m >= datum.s","value":"#3ee83e"},"value":"#ff2a2a"}}},
{"data":{"name":"buttons"},"mark":{"type":"point","filled":true,"size":120,"color":"#6a6a6a","opacity":0.6},"encoding":{"x":{"field":"i","type":"quantitative"},"y":{"datum":0.055}}},
{"data":{"values":[{"i":2.8,"v":0.08,"t":"FXCM"}]},"mark":{"type":"text","align":"left","baseline":"middle","fontSize":11,"fontWeight":"bold","color":"#2f5f9a","opacity":0.8},"encoding":{"x":{"field":"i","type":"quantitative"},"y":{"field":"v","type":"quantitative"},"text":{"field":"t"}}},
{"data":{"values":[{"i":6.0,"v":0.19,"t":"powered by"}]},"mark":{"type":"text","align":"left","baseline":"middle","fontSize":4.5,"color":"#5a5a5a"},"encoding":{"x":{"field":"i","type":"quantitative"},"y":{"field":"v","type":"quantitative"},"text":{"field":"t"}}},
{"data":{"name":"macdHead"},"mark":{"type":"text","align":"left","baseline":"middle","fontSize":5.3},"encoding":{"x":{"field":"i","type":"quantitative"},"y":{"field":"v","type":"quantitative"},"text":{"field":"t"},"color":{"condition":[{"test":"datum.role == 'neg'","value":"#ff3030"},{"test":"datum.role == 'pos'","value":"#f2e27a"},{"test":"datum.role == 'icon'","value":"#666666"}],"value":"#c8c8c8"}}},
{"data":{"values":[{"x":125.8}]},"mark":{"type":"rule","color":"#333333","strokeWidth":1},"encoding":{"x":{"field":"x","type":"quantitative"}}},
{"data":{"name":"macdTicks"},"mark":{"type":"text","align":"center","baseline":"middle","fontSize":5.5,"color":"#c4c4c4"},"encoding":{"x":{"datum":127.6},"y":{"field":"v","type":"quantitative"},"text":{"field":"t"}}}
]
}
]
}
